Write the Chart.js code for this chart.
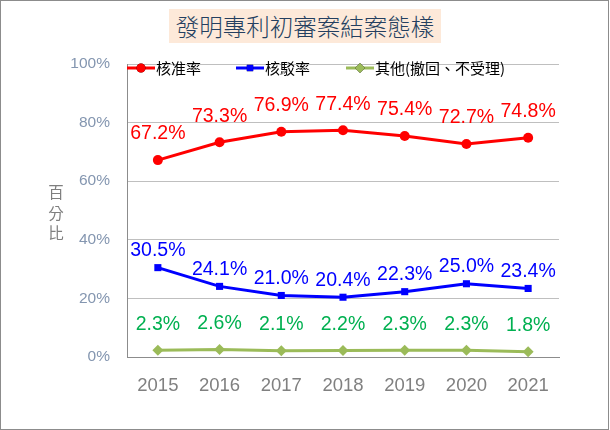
<!DOCTYPE html>
<html>
<head>
<meta charset="utf-8">
<script src="https://cdn.jsdelivr.net/npm/chart.js@4/dist/chart.umd.min.js"></script>
<style>
  body { margin: 0; background: #fff; }
  #wrap { position: relative; width: 610px; height: 430px; }
  #frame { position: absolute; left: 0; top: 0; width: 607px; height: 428px; border: 1px solid #8c8c8c; pointer-events: none; }
  #title {
    position: absolute; left: 169px; top: 9px; width: 272px; height: 34px;
    background: #fde9d9; color: #243f60;
    font-family: "Noto Sans CJK TC", sans-serif; font-size: 23.5px; font-weight: 300;
    line-height: 34px; text-align: center;
  }
  #ytitle {
    position: absolute; left: 48px; top: 181px; width: 16px;
    font-family: "Noto Sans CJK TC", sans-serif; font-size: 15.5px; line-height: 20.5px;
    color: #7f7f7f; text-align: center;
  }
  canvas { position: absolute; left: 0; top: 0; }
</style>
</head>
<body>
<div id="wrap">
  <canvas id="myChart" width="610" height="430"></canvas>
  <div id="title">發明專利初審案結案態樣</div>
  <div id="ytitle">百<br>分<br>比</div>
  <div id="frame"></div>
</div>
<script>
const years = ['2015', '2016', '2017', '2018', '2019', '2020', '2021'];
const approved = [67.2, 73.3, 76.9, 77.4, 75.4, 72.7, 74.8];
const rejected = [30.5, 24.1, 21.0, 20.4, 22.3, 25.0, 23.4];
const others = [2.3, 2.6, 2.1, 2.2, 2.3, 2.3, 1.8];
const seriesNames = ['核准率', '核駁率', '其他(撤回、不受理)'];
const yTicks = [0, 20, 40, 60, 80, 100];

const labelColors = ['#ff0000', '#0000ff', '#00b050'];
const labelOffsets = [26, 17, 26];
const legendX = [127, 236, 346];

// data labels above each point
const pointLabels = {
    id: 'pointLabels',
    afterDatasetsDraw(chart) {
        const c = chart.ctx;
        c.save();
        c.font = '19.5px "Liberation Sans", Arial, sans-serif';
        c.textAlign = 'center';
        c.textBaseline = 'middle';
        chart.data.datasets.forEach((ds, i) => {
            c.fillStyle = labelColors[i];
            chart.getDatasetMeta(i).data.forEach((pt, j) => {
                c.fillText(ds.data[j].toFixed(1) + '%', pt.x, pt.y - labelOffsets[i]);
            });
        });
        c.restore();
    }
};

// legend drawn over the top of the plot
const topLegend = {
    id: 'topLegend',
    afterDraw(chart) {
        const c = chart.ctx;
        const y = 68;
        c.save();
        chart.data.datasets.forEach((ds, i) => {
            const x = legendX[i];
            c.strokeStyle = ds.borderColor;
            c.lineWidth = 3;
            c.beginPath();
            c.moveTo(x, y);
            c.lineTo(x + 28, y);
            c.stroke();
            Chart.helpers.drawPoint(c, {
                pointStyle: ds.pointStyle,
                radius: ds.pointRadius - 0.5,
                borderWidth: 0
            }, x + 14, y);
            c.fillStyle = ds.borderColor;
            c.fill();
            c.fillStyle = '#000';
            c.font = '15px "Noto Sans CJK TC", sans-serif';
            c.textAlign = 'left';
            c.textBaseline = 'middle';
            c.fillText(ds.label, x + 29, y);
        });
        c.restore();
    }
};

const ctx = document.getElementById('myChart').getContext('2d');
const myChart = new Chart(ctx, {
    type: 'line',
    data: {
        labels: years,
        datasets: [
            {
                label: seriesNames[0],
                data: approved,
                borderColor: '#ff0000',
                backgroundColor: '#ff0000',
                borderWidth: 3,
                pointStyle: 'circle',
                pointRadius: 5,
                pointBorderWidth: 0
            },
            {
                label: seriesNames[1],
                data: rejected,
                borderColor: '#0000ff',
                backgroundColor: '#0000ff',
                borderWidth: 3,
                pointStyle: 'rect',
                pointRadius: 5,
                pointBorderWidth: 0
            },
            {
                label: seriesNames[2],
                data: others,
                borderColor: '#9bbb59',
                backgroundColor: '#9bbb59',
                borderWidth: 3,
                pointStyle: 'rectRot',
                pointRadius: 5.5,
                pointBorderWidth: 0
            }
        ]
    },
    options: {
        responsive: false,
        animation: false,
        layout: { padding: { left: 0, right: 51, top: 64, bottom: 0 } },
        plugins: {
            legend: { display: false },
            title: { display: false },
            tooltip: { enabled: false }
        },
        scales: {
            x: {
                offset: true,
                grid: { display: false, drawTicks: false },
                border: { color: '#8c8c8c', width: 1 },
                ticks: {
                    color: '#808080',
                    padding: 18,
                    font: { family: '"Liberation Sans", Arial, sans-serif', size: 18.5 }
                },
                afterFit(scale) { scale.height = 73; }
            },
            y: {
                min: 0,
                max: 100,
                afterBuildTicks(scale) { scale.ticks = yTicks.map(v => ({ value: v })); },
                grid: { color: '#bfbfbf', drawTicks: false },
                border: { color: '#8c8c8c', width: 1 },
                ticks: {
                    color: '#8496b0',
                    padding: 17,
                    font: { family: '"Liberation Sans", Arial, sans-serif', size: 15.5 },
                    callback: v => v + '%'
                },
                afterFit(scale) { scale.width = 127; }
            }
        }
    },
    plugins: [pointLabels, topLegend]
});
</script>
</body>
</html>
